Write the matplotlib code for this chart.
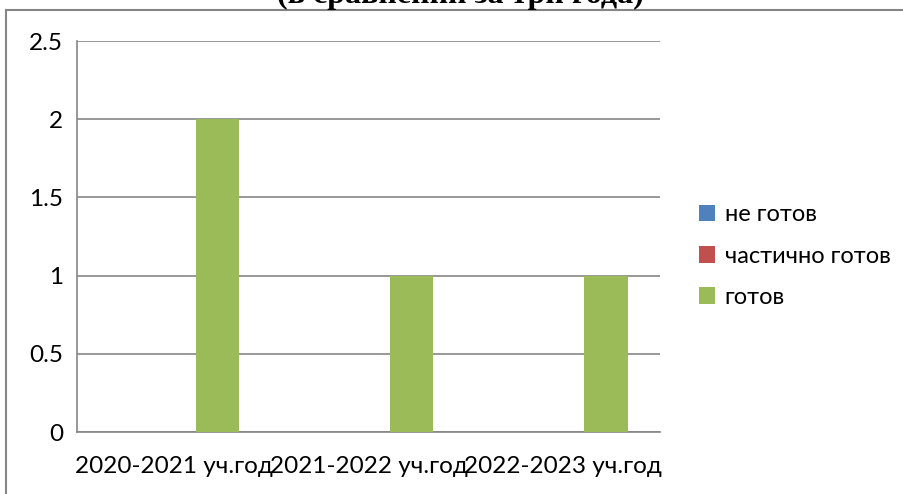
import numpy as np
import matplotlib.pyplot as plt
from matplotlib.lines import Line2D

categories = ['2020-2021 уч.год', '2021-2022 уч.год', '2022-2023 уч.год']
series_names = ['не готов', 'частично готов', 'готов']
not_ready = [0, 0, 0]
partly_ready = [0, 0, 0]
ready = [2, 1, 1]
colors = ['#4F81BD', '#C0504D', '#9BBB59']

plt.rcParams['font.family'] = ['Lato', 'DejaVu Sans']

dpi = 100
fig = plt.figure(figsize=(904/dpi, 494/dpi), dpi=dpi)
ax = fig.add_axes([77/904, 1 - 432/494, (660-77)/904, (432-41)/494])

x = np.arange(len(categories))
w = 1 / 4.5
for i, (vals, name) in enumerate(zip([not_ready, partly_ready, ready], series_names)):
    ax.bar(x + (i - 1) * w, vals, width=w, color=colors[i], label=name, zorder=3)

ax.set_xlim(-0.5, 2.5)
ax.set_ylim(0, 2.5)
ax.set_yticks([0, 0.5, 1, 1.5, 2, 2.5])
ax.set_yticklabels(['0', '0.5', '1', '1.5', '2', '2.5'])
ax.set_xticks(x)
ax.set_xticklabels(categories)
ax.tick_params(length=0, labelsize=17.5, pad=10)
ax.tick_params(axis='x', pad=17)
ax.grid(axis='y', color='#868686', linewidth=1.2, zorder=0)
for s in ['top', 'right']:
    ax.spines[s].set_visible(False)
for s in ['left', 'bottom']:
    ax.spines[s].set_color('#868686')
    ax.spines[s].set_linewidth(1.2)

leg = ax.legend(loc='center left', bbox_to_anchor=(1.03, 0.45), frameon=False,
                fontsize=17, handlelength=0.7, handleheight=0.7,
                handletextpad=0.4, labelspacing=0.85)

# chart frame: only left and top edges are visible in the crop
fig.add_artist(Line2D([6/904, 6/904], [0, 1 - 10/494], transform=fig.transFigure,
                      color='#868686', linewidth=1.5))
fig.add_artist(Line2D([6/904, 1], [1 - 10/494, 1 - 10/494], transform=fig.transFigure,
                      color='#868686', linewidth=1.5))
fig.text(460/904, 1 - 3/494, '(в сравнении за три года)', ha='center', va='baseline',
         fontsize=23, fontweight='bold', family='Liberation Serif')

plt.savefig('out.png', dpi=dpi)
